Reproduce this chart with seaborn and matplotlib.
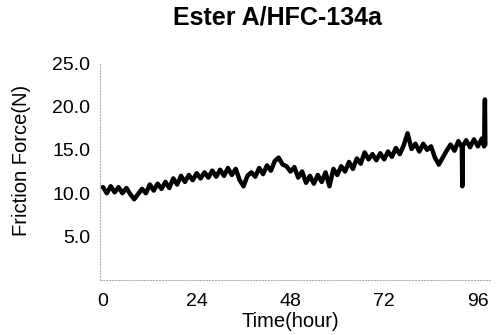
import matplotlib
matplotlib.use("Agg")
import matplotlib.pyplot as plt
import seaborn as sns
import pandas as pd
from matplotlib.ticker import FormatStrFormatter

# friction force trace (hours, N)
time_h = [0, 1, 2, 3, 4, 5, 6, 7, 8, 9, 10, 11, 12, 13, 14, 15, 16, 17, 18, 19,
          20, 21, 22, 23, 24, 25, 26, 27, 28, 29, 30, 31, 32, 33, 34, 35, 36, 37, 38, 39,
          40, 41, 42, 43, 44, 45, 46, 47, 48, 49, 50, 51, 52, 53, 54, 55, 56, 57, 58, 59,
          60, 61, 62, 63, 64, 65, 66, 67, 68, 69, 70, 71, 72, 73, 74, 75, 76, 77, 78, 79,
          80, 81, 82, 83, 84, 85, 86, 87, 88, 89, 90, 91, 91.9, 92, 92.1, 93, 94, 95, 96, 97,
          97.6, 97.8, 97.9]
force_n = [10.7, 10.0, 10.8, 10.1, 10.7, 10.0, 10.6, 9.9, 9.3, 9.9, 10.5, 10.0, 11.0, 10.3, 11.1, 10.5, 11.3, 10.6, 11.7, 11.0,
           12.0, 11.3, 12.1, 11.5, 12.3, 11.7, 12.4, 11.8, 12.6, 11.9, 12.7, 12.0, 12.9, 12.1, 12.8, 11.5, 10.8, 12.0, 12.4, 11.9,
           12.9, 12.2, 13.2, 12.6, 13.7, 14.1, 13.3, 13.1, 12.5, 13.0, 11.8, 12.5, 11.2, 12.0, 11.1, 12.1, 11.3, 12.4, 10.8, 12.8,
           12.1, 13.1, 12.5, 13.6, 12.8, 14.0, 13.4, 14.7, 13.9, 14.5, 13.8, 14.6, 13.9, 14.8, 14.2, 15.2, 14.5, 15.5, 16.9, 15.1,
           15.7, 14.8, 15.7, 15.0, 15.4, 14.1, 13.3, 14.1, 14.9, 15.6, 14.9, 16.0, 15.3, 10.8, 15.4, 16.1, 15.3, 16.2, 15.4, 16.3,
           15.4, 20.8, 15.6]
x_ticks = [0, 24, 48, 72, 96]
y_ticks = [5, 10, 15, 20, 25]

df = pd.DataFrame({"time": time_h, "force": force_n})

sns.set_style("white")
plt.rcParams["font.family"] = ["Liberation Sans", "DejaVu Sans"]
plt.rcParams["text.color"] = "black"
plt.rcParams["axes.labelcolor"] = "black"
plt.rcParams["xtick.color"] = "black"
plt.rcParams["ytick.color"] = "black"

fig = plt.figure(figsize=(4.99, 3.35), dpi=100)
ax = fig.add_axes([100 / 499, 55 / 335, 390 / 499, 217 / 335])

sns.lineplot(data=df, x="time", y="force", color="black", linewidth=3.2, ax=ax)

ax.set_xlim(-0.75, 99.1)
ax.set_ylim(0, 25)
ax.set_xticks(x_ticks)
ax.set_yticks(y_ticks)
ax.yaxis.set_major_formatter(FormatStrFormatter("%.1f"))
ax.tick_params(axis="both", length=0, labelsize=14)
ax.tick_params(axis="y", pad=7)
ax.tick_params(axis="x", pad=9)

for side in ["left", "bottom"]:
    ax.spines[side].set_color("#b0b0b0")
    ax.spines[side].set_linestyle(":")
    ax.spines[side].set_linewidth(0.8)
ax.spines["top"].set_visible(False)
ax.spines["right"].set_visible(False)

fig.text(277 / 499, 1 - 17.5 / 335, "Ester A/HFC-134a", fontsize=18, fontweight="bold",
         ha="center", va="center")
ax.set_xlabel("Time(hour)", fontsize=14.5)
ax.set_ylabel("Friction Force(N)", fontsize=14.5)
ax.xaxis.set_label_coords(0.487, -0.147)
ax.yaxis.set_label_coords(-0.177, 0.553)

fig.savefig("out.png", dpi=100)
